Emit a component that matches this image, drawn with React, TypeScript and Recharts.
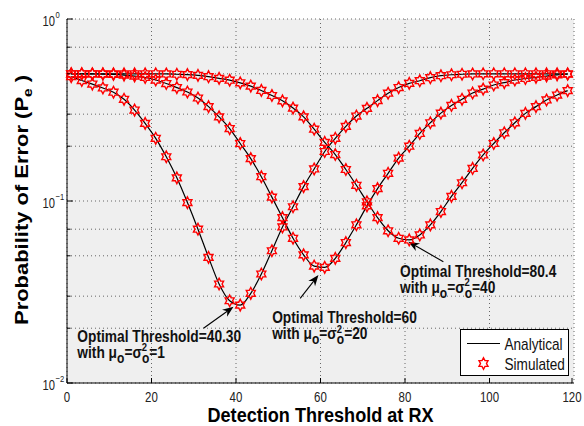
import React from "react";
import { LineChart, Line, XAxis, YAxis, CartesianGrid, ReferenceLine, ReferenceDot } from "recharts";

// detection thresholds where Pe was evaluated / simulated
const thresholds = [
  1, 3.5, 6, 8.5, 11, 13.5, 16, 18.5, 21, 23.5, 26, 28.5, 31, 33.5, 36, 38.5,
  41, 43.5, 46, 48.5, 51, 53.5, 56, 58.5, 61, 63.5, 66, 68.5, 71, 73.5, 76, 78.5,
  81, 83.5, 86, 88.5, 91, 93.5, 96, 98.5, 101, 103.5, 106, 108.5, 111, 113.5, 116, 118.5,
];

// Pe for mu_o = sigma_o^2 = 1
const peMu1 = [
  0.482, 0.459, 0.439, 0.418, 0.396, 0.362, 0.316, 0.267, 0.221, 0.175, 0.134, 0.098,
  0.07, 0.049, 0.035, 0.0283, 0.0268, 0.0311, 0.0397, 0.0533, 0.072, 0.093, 0.12, 0.15,
  0.187, 0.221, 0.257, 0.293, 0.323, 0.356, 0.391, 0.42, 0.443, 0.458, 0.476, 0.488,
  0.494, 0.497, 0.499, 0.5, 0.5, 0.5, 0.5, 0.5, 0.5, 0.5, 0.5, 0.5,
];

// Pe for mu_o = sigma_o^2 = 20
const peMu20 = [
  0.5, 0.5, 0.499, 0.498, 0.496, 0.492, 0.486, 0.477, 0.462, 0.442, 0.42, 0.397,
  0.368, 0.33, 0.29, 0.25, 0.207, 0.171, 0.136, 0.105, 0.081, 0.0624, 0.0506, 0.0439,
  0.0432, 0.0484, 0.0591, 0.074, 0.094, 0.117, 0.142, 0.172, 0.2, 0.235, 0.269, 0.304,
  0.335, 0.362, 0.392, 0.412, 0.434, 0.447, 0.462, 0.471, 0.478, 0.486, 0.493, 0.497,
];

// Pe for mu_o = sigma_o^2 = 40
const peMu40 = [
  0.5, 0.5, 0.5, 0.5, 0.5, 0.5, 0.5, 0.5, 0.5, 0.499, 0.497, 0.495,
  0.49, 0.482, 0.472, 0.461, 0.446, 0.428, 0.405, 0.38, 0.355, 0.324, 0.29, 0.248,
  0.21, 0.18, 0.149, 0.122, 0.099, 0.081, 0.0686, 0.0624, 0.0611, 0.0651, 0.0739, 0.0875,
  0.106, 0.126, 0.151, 0.179, 0.207, 0.237, 0.269, 0.303, 0.33, 0.359, 0.382, 0.404,
];

const xTicks = [0, 20, 40, 60, 80, 100, 120];
const yTicks = [
  0.01, 0.02, 0.03, 0.04, 0.05, 0.06, 0.07, 0.08, 0.09,
  0.1, 0.2, 0.3, 0.4, 0.5, 0.6, 0.7, 0.8, 0.9, 1,
];
const decadeExp: Record<string, string> = { "1": "0", "0.1": "\u22121", "0.01": "\u22122" };

const rows = thresholds.map((t, i) => ({ t, mu1: peMu1[i], mu20: peMu20[i], mu40: peMu40[i] }));

const FONT = '"Liberation Sans", Arial, Helvetica, sans-serif';

// six-pointed star outline (two overlapping triangles)
function starPath(cx: number, cy: number, rx = 5.2, ry = 5.8) {
  const pts: string[] = [];
  for (let i = 0; i < 12; i++) {
    const a = ((-90 + i * 30) * Math.PI) / 180;
    const k = i % 2 === 0 ? 1 : 1 / Math.sqrt(3);
    pts.push(`${(cx + rx * k * Math.cos(a)).toFixed(2)},${(cy + ry * k * Math.sin(a)).toFixed(2)}`);
  }
  return "M" + pts.join("L") + "Z";
}

const renderStar = (p: any) => {
  if (p.cx == null || p.cy == null) return <g key={`${p.dataKey}-${p.index}`} />;
  return (
    <path key={`${p.dataKey}-${p.index}`} d={starPath(p.cx, p.cy)} fill="none" stroke="#ff0000" strokeWidth={1.4} />
  );
};

const LeftTick = (p: any) => {
  const { x, y, payload } = p;
  const exp = decadeExp[String(payload.value)];
  const major = exp !== undefined;
  return (
    <g>
      <line x1={x} x2={x + (major ? 6 : 3.5)} y1={y} y2={y} stroke="#000" />
      {major && (
        <g fill="#222" fontFamily={FONT}>
          <text transform={`translate(${x - 12},${y + 6.5}) scale(0.8,1)`} textAnchor="end" fontSize={14}>10</text>
          <text transform={`translate(${x - 11.5},${y - 1.5}) scale(0.8,1)`} fontSize={9.5}>{exp}</text>
        </g>
      )}
    </g>
  );
};

const RightTick = (p: any) => {
  const { x, y, payload } = p;
  const major = decadeExp[String(payload.value)] !== undefined;
  return <line x1={x} x2={x - (major ? 6 : 3.5)} y1={y} y2={y} stroke="#000" />;
};

const BottomTick = (p: any) => {
  const { x, y, payload } = p;
  return (
    <g>
      <line x1={x} x2={x} y1={y} y2={y - 5} stroke="#000" />
      <text transform={`translate(${x},${y + 18.5}) scale(0.82,1)`} textAnchor="middle" fontSize={14} fill="#222" fontFamily={FONT}>
        {payload.value}
      </text>
    </g>
  );
};

const TopTick = (p: any) => <line x1={p.x} x2={p.x} y1={p.y} y2={p.y + 5} stroke="#000" />;

// annotation arrow: shaft plus notched filled head at the end point
const Arrow = (p: any) => {
  const { x1, y1, x2, y2 } = p;
  if (x1 == null) return <g />;
  const a = Math.atan2(y2 - y1, x2 - x1);
  const c = Math.cos(a), s = Math.sin(a);
  const L = 11, W = 4.3;
  const bx = x2 - L * c, by = y2 - L * s;
  const nx = x2 - 0.7 * L * c, ny = y2 - 0.7 * L * s;
  return (
    <g>
      <line x1={x1} y1={y1} x2={nx} y2={ny} stroke="#000" strokeWidth={1.1} />
      <path d={`M${x2},${y2}L${bx - s * W},${by + c * W}L${nx},${ny}L${bx + s * W},${by - c * W}Z`} fill="#000" />
    </g>
  );
};

const Note = ({ cx, cy, title, mu }: any) => (
  <g transform={`translate(${cx},${cy}) scale(0.86,1)`} fontFamily={FONT} fontWeight="bold" fill="#111">
    <text x={0} y={0} fontSize={16}>{title}</text>
    <text x={0} y={16} fontSize={16}>
      with μ<tspan dy={5} fontSize={14}>o</tspan>
      <tspan dy={-5}>=σ</tspan>
      <tspan dy={-7} fontSize={11}>2</tspan>
      <tspan dx={-6} dy={12} fontSize={14}>o</tspan>
      <tspan dy={-5}>={mu}</tspan>
    </text>
  </g>
);

export default function App() {
  return (
    <div style={{ position: "absolute", left: 0, top: 0, width: 584, height: 426, background: "#fff", fontFamily: FONT }}>
      <LineChart width={584} height={426} data={rows} margin={{ top: 19, right: 10, bottom: 0, left: 0 }}>
        <CartesianGrid stroke="#666" strokeDasharray="1 3" fill="#efefef" fillOpacity={1} />
        <XAxis
          dataKey="t"
          type="number"
          domain={[0, 120]}
          ticks={xTicks}
          height={43}
          tickSize={0}
          tickMargin={0}
          tick={BottomTick}
          axisLine={{ stroke: "#000" }}
          tickLine={false}
        />
        <XAxis
          xAxisId="top"
          orientation="top"
          type="number"
          domain={[0, 120]}
          ticks={xTicks}
          height={0}
          tickSize={0}
          tickMargin={0}
          tick={TopTick}
          axisLine={{ stroke: "#000" }}
          tickLine={false}
        />
        <YAxis
          type="number"
          scale="log"
          domain={[0.01, 1]}
          ticks={yTicks}
          width={67}
          tickSize={0}
          tickMargin={0}
          tick={LeftTick}
          axisLine={{ stroke: "#000" }}
          tickLine={false}
          allowDataOverflow
        />
        <YAxis
          yAxisId="right"
          orientation="right"
          type="number"
          scale="log"
          domain={[0.01, 1]}
          ticks={yTicks}
          width={0}
          tickSize={0}
          tickMargin={0}
          tick={RightTick}
          axisLine={{ stroke: "#000" }}
          tickLine={false}
          allowDataOverflow
        />

        {/* analytical curves */}
        <Line type="monotone" dataKey="mu1" stroke="#000" strokeWidth={1.2} dot={false} activeDot={false} isAnimationActive={false} />
        <Line type="monotone" dataKey="mu20" stroke="#000" strokeWidth={1.2} dot={false} activeDot={false} isAnimationActive={false} />
        <Line type="monotone" dataKey="mu40" stroke="#000" strokeWidth={1.2} dot={false} activeDot={false} isAnimationActive={false} />

        {/* simulated points */}
        <Line key="s1" dataKey="mu1" stroke="none" dot={renderStar} activeDot={false} isAnimationActive={false} />
        <Line key="s20" dataKey="mu20" stroke="none" dot={renderStar} activeDot={false} isAnimationActive={false} />
        <Line key="s40" dataKey="mu40" stroke="none" dot={renderStar} activeDot={false} isAnimationActive={false} />

        {/* optimal threshold notes */}
        <ReferenceLine segment={[{ x: 32.31, y: 0.01998 }, { x: 39.41, y: 0.02625 }]} shape={Arrow} ifOverflow="visible" />
        <ReferenceLine segment={[{ x: 55.19, y: 0.0292 }, { x: 59.52, y: 0.0392 }]} shape={Arrow} ifOverflow="visible" />
        <ReferenceLine segment={[{ x: 89.08, y: 0.0464 }, { x: 80.8, y: 0.0597 }]} shape={Arrow} ifOverflow="visible" />
        <ReferenceDot x={2.44} y={0.01673} r={1} ifOverflow="visible"
          shape={(p: any) => <Note cx={p.cx} cy={p.cy} title="Optimal Threshold=40.30" mu="1" />} />
        <ReferenceDot x={48.56} y={0.02123} r={1} ifOverflow="visible"
          shape={(p: any) => <Note cx={p.cx} cy={p.cy} title="Optimal Threshold=60" mu="20" />} />
        <ReferenceDot x={78.84} y={0.03847} r={1} ifOverflow="visible"
          shape={(p: any) => <Note cx={p.cx} cy={p.cy} title="Optimal Threshold=80.4" mu="40" />} />
      </LineChart>

      {/* axis titles */}
      <svg width={584} height={426} style={{ position: "absolute", left: 0, top: 0, pointerEvents: "none" }}>
        <text x={320.5} y={422} textAnchor="middle" fontSize={19.5} fontWeight="bold" fontFamily={FONT}
          textLength={226} lengthAdjust="spacingAndGlyphs" fill="#000">
          Detection Threshold at RX
        </text>
        <text transform="translate(27.5,200) rotate(-90)" textAnchor="middle" fontSize={18.5} fontWeight="bold"
          fontFamily={FONT} textLength={250} lengthAdjust="spacingAndGlyphs" fill="#000">
          Probability of Error (P<tspan dy={4} fontSize={13}>e</tspan><tspan dy={-4}> )</tspan>
        </text>
      </svg>

      {/* legend */}
      <div style={{ position: "absolute", left: 460, top: 329, width: 109, height: 47, background: "#fff", border: "1px solid #000", boxSizing: "border-box" }}>
        <svg width={107} height={45} style={{ display: "block" }}>
          <line x1={6} x2={39} y1={13.5} y2={13.5} stroke="#000" strokeWidth={1.2} />
          <text transform="translate(43.5,19.5) scale(0.85,1)" fontSize={16} fontFamily={FONT} fill="#111">Analytical</text>
          <path d={starPath(22.5, 33.5)} fill="none" stroke="#ff0000" strokeWidth={1.4} />
          <text transform="translate(43.5,39.5) scale(0.85,1)" fontSize={16} fontFamily={FONT} fill="#111">Simulated</text>
        </svg>
      </div>
    </div>
  );
}
